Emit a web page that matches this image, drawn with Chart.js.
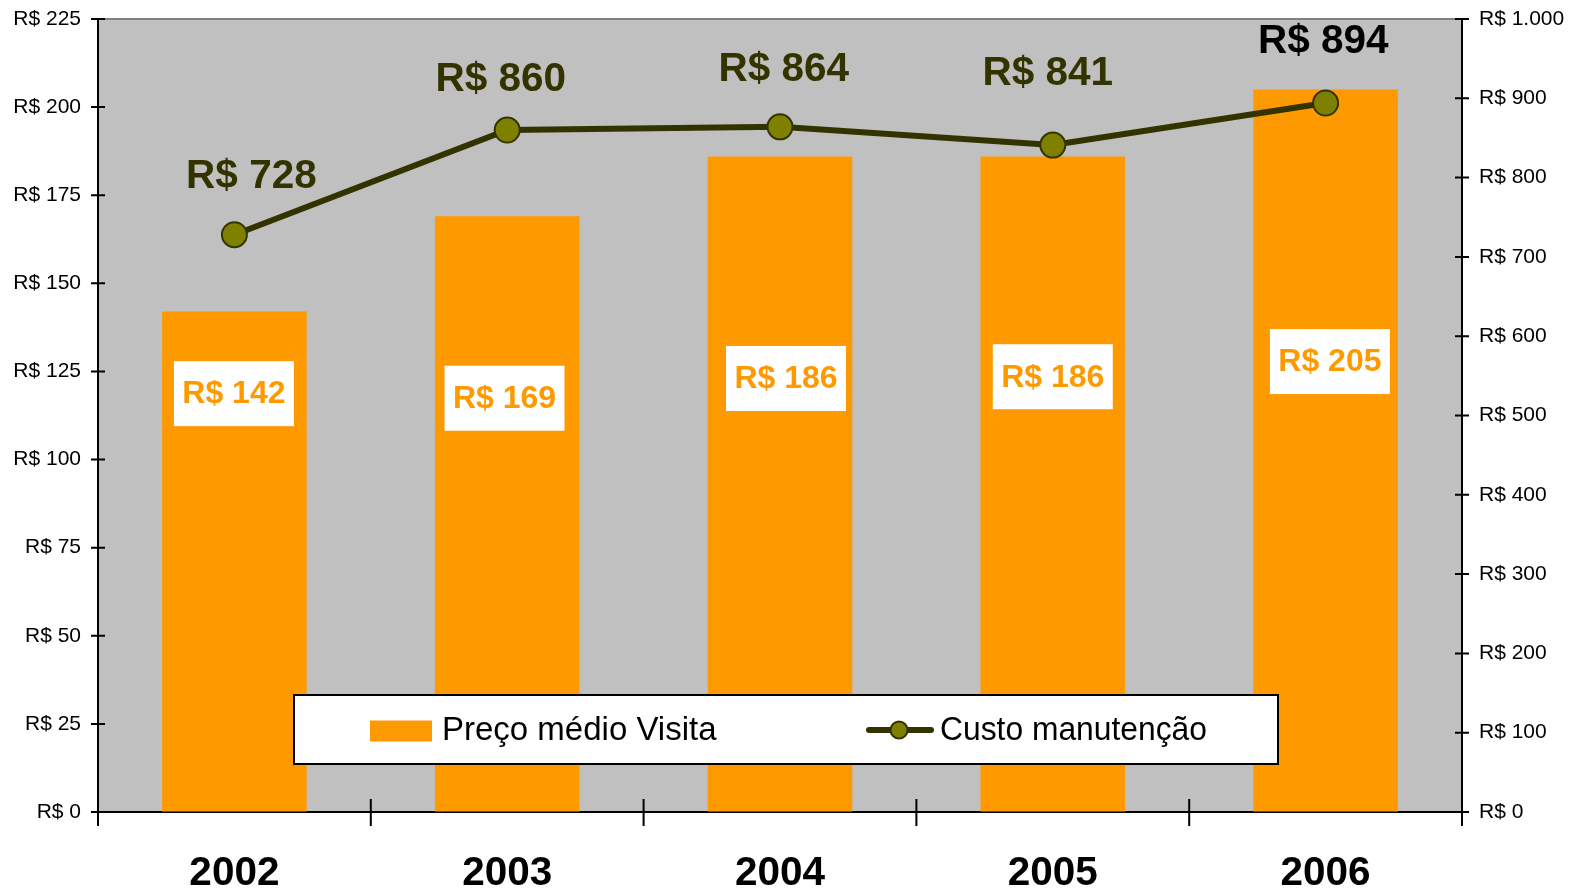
<!DOCTYPE html>
<html><head><meta charset="utf-8">
<script src="https://cdn.jsdelivr.net/npm/chart.js@4.4.0/dist/chart.umd.min.js"></script>
<style>html,body{margin:0;padding:0;background:#fff;}#wrap{width:1580px;height:890px;position:relative;}</style>
</head><body><div id="wrap"><canvas id="c" width="1580" height="890"></canvas></div>
<script>
// ---- data ----
const years = ['2002', '2003', '2004', '2005', '2006'];
const precoMedioVisita = [142, 169, 186, 186, 205];
const custoManutencao = [728, 860, 864, 841, 894];
const leftTicks = [0, 25, 50, 75, 100, 125, 150, 175, 200, 225];
const rightTicks = [0, 100, 200, 300, 400, 500, 600, 700, 800, 900, 1000];
const seriesNames = ['Preço médio Visita', 'Custo manutenção'];

function brl(v) {
  return 'R$ ' + String(v).replace(/\B(?=(\d{3})+(?!\d))/g, '.');
}

const FONT = '"Liberation Sans", Arial, sans-serif';

const decor = {
  id: 'decor',
  beforeDraw(chart) {
    const { ctx, chartArea: a } = chart;
    ctx.save();
    ctx.fillStyle = '#C0C0C0';
    ctx.fillRect(a.left, a.top, a.right - a.left, a.bottom - a.top);
    ctx.strokeStyle = '#808080';
    ctx.lineWidth = 2;
    ctx.beginPath();
    ctx.moveTo(a.left, a.top);
    ctx.lineTo(a.right, a.top);
    ctx.stroke();
    ctx.restore();
  },
  afterDatasetsDraw(chart, args, opts) {
    const { ctx, chartArea: a } = chart;
    const yS = chart.scales.y;
    ctx.save();
    // bar labels in white boxes
    const barMeta = chart.getDatasetMeta(0);
    barMeta.data.forEach((el, i) => {
      const cx = el.x + opts.barLabelDx[i];
      const cy = yS.getPixelForValue(opts.barLabelAt[i]);
      ctx.fillStyle = '#FFFFFF';
      ctx.fillRect(cx - 60, cy - 32.5, 120, 65);
      ctx.fillStyle = '#FF9900';
      ctx.font = 'bold 32px ' + FONT;
      ctx.textAlign = 'center';
      ctx.textBaseline = 'middle';
      ctx.fillText(brl(chart.data.datasets[0].data[i]), cx, cy + 1);
    });
    // line labels
    const lineMeta = chart.getDatasetMeta(1);
    lineMeta.data.forEach((el, i) => {
      ctx.fillStyle = opts.lineLabelColor[i];
      ctx.font = 'bold 40.5px ' + FONT;
      ctx.textAlign = 'center';
      ctx.textBaseline = 'middle';
      ctx.fillText(brl(chart.data.datasets[1].data[i]), el.x + opts.lineLabelDx[i], el.y + opts.lineLabelDy[i] + 1);
    });
    // legend box
    const bx = a.left + 196, by = a.bottom - 117, bw = 984, bh = 69;
    ctx.fillStyle = '#FFFFFF';
    ctx.fillRect(bx, by, bw, bh);
    ctx.strokeStyle = '#000000';
    ctx.lineWidth = 2;
    ctx.strokeRect(bx, by, bw, bh);
    const cy = by + 35;
    ctx.fillStyle = '#FF9900';
    ctx.fillRect(a.left + 272, cy - 9.5, 62, 21);
    ctx.fillStyle = '#000000';
    ctx.font = '33px ' + FONT;
    ctx.textAlign = 'left';
    ctx.textBaseline = 'middle';
    ctx.fillText(chart.data.datasets[0].label, a.left + 344, cy + 1);
    ctx.strokeStyle = '#333300';
    ctx.lineWidth = 6;
    ctx.lineCap = 'round';
    ctx.beginPath();
    ctx.moveTo(a.left + 771, cy);
    ctx.lineTo(a.left + 833, cy);
    ctx.stroke();
    ctx.beginPath();
    ctx.arc(a.left + 801, cy, 8.5, 0, Math.PI * 2);
    ctx.fillStyle = '#808000';
    ctx.fill();
    ctx.lineWidth = 2;
    ctx.stroke();
    ctx.fillStyle = '#000000';
    ctx.fillText(chart.data.datasets[1].label, a.left + 842, cy + 1, 267);
    ctx.restore();
  },
  afterDraw(chart) {
    const { ctx, chartArea: a } = chart;
    ctx.save();
    ctx.strokeStyle = '#000000';
    ctx.lineWidth = 2;
    ctx.beginPath();
    chart.scales.y.ticks.forEach(t => {
      const py = chart.scales.y.getPixelForValue(t.value);
      ctx.moveTo(a.left - 7, py); ctx.lineTo(a.left + 7, py);
    });
    chart.scales.y1.ticks.forEach(t => {
      const py = chart.scales.y1.getPixelForValue(t.value);
      ctx.moveTo(a.right - 7, py); ctx.lineTo(a.right + 7, py);
    });
    const n = chart.data.labels.length;
    for (let i = 0; i <= n; i++) {
      const px = a.left + i * (a.right - a.left) / n;
      ctx.moveTo(px, a.bottom - 13); ctx.lineTo(px, a.bottom + 14);
    }
    ctx.stroke();
    ctx.restore();
  }
};

const hiddenGrid = { display: true, drawOnChartArea: false, drawTicks: true, tickLength: 17, color: 'rgba(0,0,0,0)' };

new Chart(document.getElementById('c'), {
  type: 'bar',
  data: {
    labels: years,
    datasets: [
      {
        type: 'bar',
        label: seriesNames[0],
        data: precoMedioVisita,
        backgroundColor: '#FF9900',
        borderWidth: 0,
        categoryPercentage: 1,
        barPercentage: 0.53,
        yAxisID: 'y',
        order: 2
      },
      {
        type: 'line',
        label: seriesNames[1],
        data: custoManutencao,
        borderColor: '#333300',
        borderWidth: 6,
        pointRadius: 12.5,
        pointBackgroundColor: '#808000',
        pointBorderColor: '#333300',
        pointBorderWidth: 2,
        tension: 0,
        yAxisID: 'y1',
        order: 1
      }
    ]
  },
  options: {
    responsive: false,
    animation: false,
    devicePixelRatio: 1,
    layout: { padding: { top: 19, left: 0, right: 0, bottom: 0 } },
    plugins: {
      legend: { display: false },
      tooltip: { enabled: false },
      decor: {
        barLabelAt: [118.7, 117.4, 123.0, 123.5, 127.8],
        barLabelDx: [-0.5, -2.7, 6, 0, 4.3],
        lineLabelDx: [17, -6.5, 3.8, -5, -2.3],
        lineLabelDy: [-58.7, -51.5, -58.5, -72, -62.5],
        lineLabelColor: ['#333300', '#333300', '#333300', '#333300', '#000000']
      }
    },
    scales: {
      x: {
        offset: true,
        z: 1,
        grid: { display: false, drawTicks: false },
        border: { display: true, color: '#000000', width: 2 },
        ticks: { color: '#000000', font: { family: FONT, size: 40.5, weight: 'bold' }, padding: 38, maxRotation: 0 },
        afterFit(s) { s.height = 78; }
      },
      y: {
        position: 'left',
        min: 0, max: 225,
        z: 1,
        afterBuildTicks(s) { s.ticks = leftTicks.map(v => ({ value: v })); },
        grid: hiddenGrid,
        border: { display: true, color: '#000000', width: 2 },
        ticks: { color: '#000000', font: { family: FONT, size: 21 }, padding: 0, callback: v => brl(v) },
        afterFit(s) { s.width = 98; }
      },
      y1: {
        position: 'right',
        min: 0, max: 1000,
        z: 1,
        afterBuildTicks(s) { s.ticks = rightTicks.map(v => ({ value: v })); },
        grid: hiddenGrid,
        border: { display: true, color: '#000000', width: 2 },
        ticks: { color: '#000000', font: { family: FONT, size: 21 }, padding: 0, callback: v => brl(v) },
        afterFit(s) { s.width = 118; }
      }
    }
  },
  plugins: [decor]
});
</script>
</body></html>
